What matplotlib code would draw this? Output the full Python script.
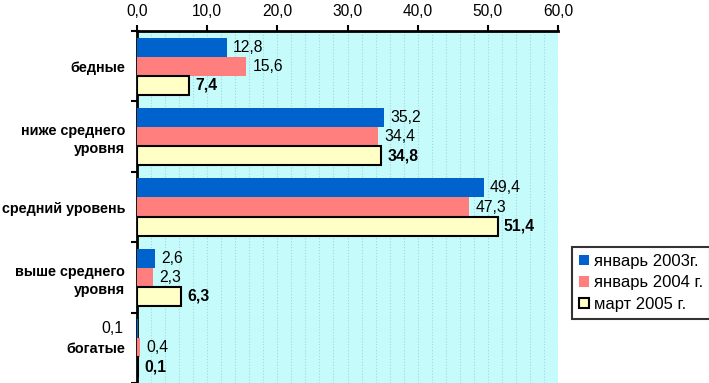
import numpy as np
from matplotlib import pyplot as plt
from matplotlib.ticker import MultipleLocator, FixedLocator

plt.rcParams['font.family'] = ['Liberation Sans', 'DejaVu Sans']

# данные
categories = ['бедные', 'ниже среднего\nуровня', 'средний уровень', 'выше среднего\nуровня', 'богатые']
series_names = ['январь 2003г.', 'январь 2004 г.', 'март 2005 г.']
jan_2003 = [12.8, 35.2, 49.4, 2.6, 0.1]
jan_2004 = [15.6, 34.4, 47.3, 2.3, 0.4]
mar_2005 = [7.4, 34.8, 51.4, 6.3, 0.1]
x_ticks = [0, 10, 20, 30, 40, 50, 60]

colors = ['#0062CC', '#FF7F7F', '#FFFFC6']

fig = plt.figure(figsize=(7.09, 3.83), dpi=100)
ax = fig.add_axes([137 / 709, 0.0, (558 - 137) / 709, 1 - 31 / 383])
ax.set_facecolor('#C6FBFB')

y = np.arange(len(categories))
h = 0.27
series = [jan_2003, jan_2004, mar_2005]
containers = []
for k, (vals, name, c) in enumerate(zip(series, series_names, colors)):
    if k == 2:
        bc = ax.barh(y + (k - 1) * h, vals, height=h, color=c, edgecolor='black', linewidth=1.5,
                     label=name, zorder=3)
    else:
        bc = ax.barh(y + (k - 1) * h, vals, height=h, color=c, edgecolor='none', label=name, zorder=3)
    containers.append(bc)

# подписи значений
for k, (vals, bc) in enumerate(zip(series, containers)):
    for i, (v, rect) in enumerate(zip(vals, bc)):
        txt = '{:.1f}'.format(v).replace('.', ',')
        yc = rect.get_y() + rect.get_height() / 2
        weight = 'bold' if k == 2 else 'normal'
        if k == 0 and i == 4:
            # подпись у богатых в 2003 стоит слева от оси
            ax.annotate(txt, (0, yc), xytext=(-10, 0), textcoords='offset points',
                        ha='right', va='center', fontsize=11.3, weight=weight)
        else:
            ax.annotate(txt, (v, yc), xytext=(4.5, 0), textcoords='offset points',
                        ha='left', va='center', fontsize=11.3, weight=weight)

ax.set_xlim(0, 60)
ax.set_ylim(len(categories) - 0.5, -0.5)
ax.xaxis.tick_top()
ax.xaxis.set_major_locator(FixedLocator(x_ticks))
ax.set_xticklabels(['{:.1f}'.format(t).replace('.', ',') for t in x_ticks], fontsize=11.2)
ax.xaxis.set_minor_locator(MultipleLocator(2))
ax.grid(which='both', axis='x', color='#A4D6DE', linestyle=':', linewidth=0.8, zorder=0)
ax.tick_params(axis='x', which='major', direction='out', length=4, width=1.5, pad=5)
ax.tick_params(axis='x', which='minor', length=0)

ax.set_yticks(y)
ax.set_yticklabels(categories, fontsize=10.4, weight='bold', linespacing=1.4)
ax.yaxis.set_minor_locator(FixedLocator(np.arange(-0.5, len(categories), 1.0)))
ax.tick_params(axis='y', which='major', length=0, pad=8.5)
ax.tick_params(axis='y', which='minor', direction='out', length=4, width=1.5)

for s in ['right', 'bottom']:
    ax.spines[s].set_visible(False)
for s in ['top', 'left']:
    ax.spines[s].set_linewidth(2)

leg = fig.legend(loc='upper left', bbox_to_anchor=(572 / 709, 1 - 247 / 383), fontsize=12,
                 frameon=True, fancybox=False, edgecolor='black', handlelength=0.6, handleheight=0.6,
                 handletextpad=0.3, borderpad=0.42, labelspacing=0.38, borderaxespad=0)
leg.get_frame().set_linewidth(1.5)

fig.savefig('out.png', dpi=100)
